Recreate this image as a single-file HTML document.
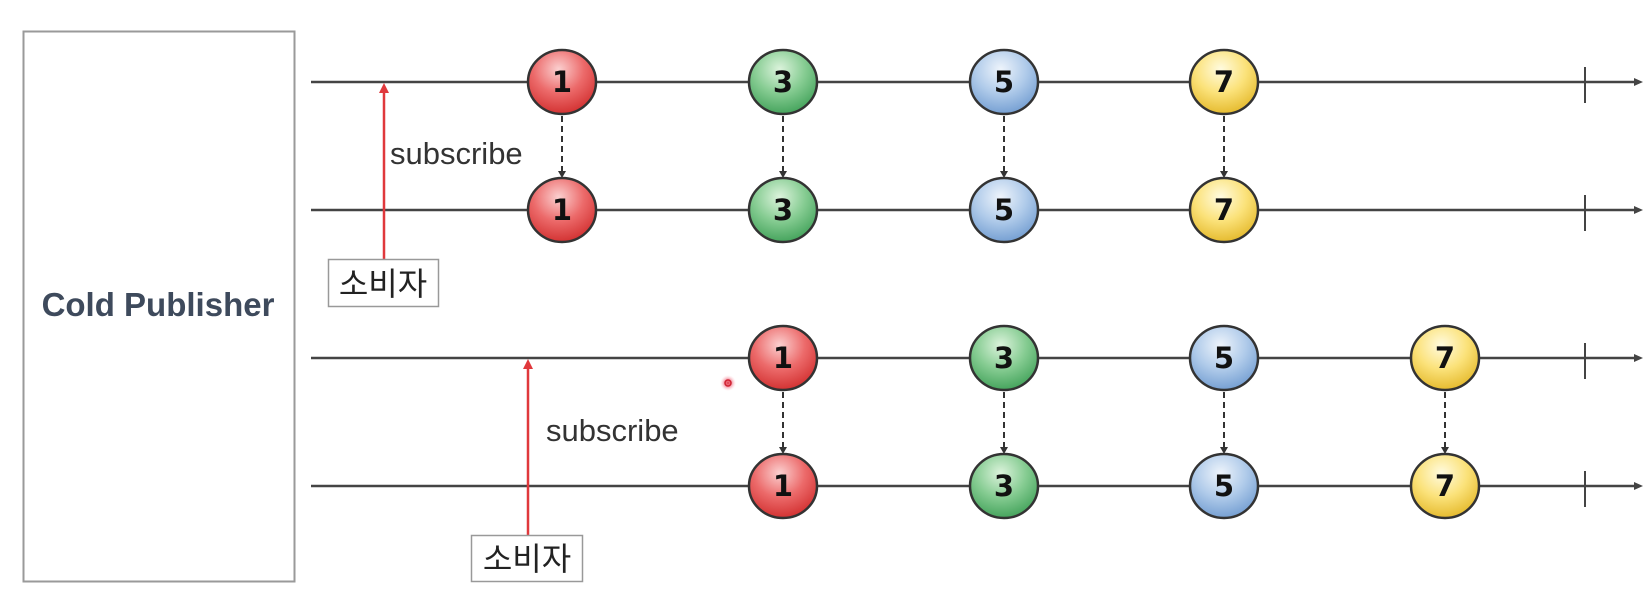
<!DOCTYPE html>
<html><head><meta charset="utf-8"><style>
html,body{margin:0;padding:0;background:#fff;}
svg{display:block;}
</style></head><body>
<svg width="1648" height="614" viewBox="0 0 1648 614" xmlns="http://www.w3.org/2000/svg">
<defs>
<radialGradient id="gr" cx="45%" cy="30%" r="75%"><stop offset="0" stop-color="#fbd0d0"/><stop offset="0.5" stop-color="#ec6a6a"/><stop offset="1" stop-color="#cf2a2a"/></radialGradient>
<radialGradient id="gg" cx="45%" cy="30%" r="75%"><stop offset="0" stop-color="#dcf3dc"/><stop offset="0.5" stop-color="#86cc92"/><stop offset="1" stop-color="#3c9e55"/></radialGradient>
<radialGradient id="gb" cx="45%" cy="30%" r="75%"><stop offset="0" stop-color="#eef4fb"/><stop offset="0.5" stop-color="#b0cbea"/><stop offset="1" stop-color="#6d99cf"/></radialGradient>
<radialGradient id="gy" cx="45%" cy="30%" r="75%"><stop offset="0" stop-color="#fffbe0"/><stop offset="0.5" stop-color="#fbe27a"/><stop offset="1" stop-color="#e2b524"/></radialGradient>
<radialGradient id="dot"><stop offset="0" stop-color="#e03040"/><stop offset="0.5" stop-color="#f08090" stop-opacity="0.7"/><stop offset="1" stop-color="#ffd0d8" stop-opacity="0"/></radialGradient>
</defs>
<rect x="23.5" y="31.5" width="271" height="550" fill="#fff" stroke="#9a9a9a" stroke-width="2"/>
<text x="158" y="316" text-anchor="middle" font-family="Liberation Sans, sans-serif" font-weight="bold" font-size="33" fill="#3e4a5c">Cold Publisher</text>

<g stroke="#444" stroke-width="2.5" fill="#444">
<line x1="311" y1="82" x2="1636" y2="82"/><polygon points="1643,82 1634,78 1634,86" stroke="none"/>
<line x1="311" y1="210" x2="1636" y2="210"/><polygon points="1643,210 1634,206 1634,214" stroke="none"/>
<line x1="311" y1="358" x2="1636" y2="358"/><polygon points="1643,358 1634,354 1634,362" stroke="none"/>
<line x1="311" y1="486" x2="1636" y2="486"/><polygon points="1643,486 1634,482 1634,490" stroke="none"/>
<line x1="1585" y1="67" x2="1585" y2="103" stroke-width="2"/>
<line x1="1585" y1="195" x2="1585" y2="231" stroke-width="2"/>
<line x1="1585" y1="343" x2="1585" y2="379" stroke-width="2"/>
<line x1="1585" y1="471" x2="1585" y2="507" stroke-width="2"/>
</g>

<g stroke="#333" stroke-width="2" stroke-dasharray="6,4" fill="none">
<line x1="562" y1="116" x2="562" y2="172"/><line x1="783" y1="116" x2="783" y2="172"/><line x1="1004" y1="116" x2="1004" y2="172"/><line x1="1224" y1="116" x2="1224" y2="172"/>
<line x1="783" y1="392" x2="783" y2="448"/><line x1="1004" y1="392" x2="1004" y2="448"/><line x1="1224" y1="392" x2="1224" y2="448"/><line x1="1445" y1="392" x2="1445" y2="448"/>
</g>
<g fill="#333">
<polygon points="562,178 558,171 566,171"/><polygon points="783,178 779,171 787,171"/><polygon points="1004,178 1000,171 1008,171"/><polygon points="1224,178 1220,171 1228,171"/>
<polygon points="783,454 779,447 787,447"/><polygon points="1004,454 1000,447 1008,447"/><polygon points="1224,454 1220,447 1228,447"/><polygon points="1445,454 1441,447 1449,447"/>
</g>

<g stroke="#333" stroke-width="2.5">
<ellipse cx="562" cy="82" rx="34" ry="32" fill="url(#gr)"/><ellipse cx="783" cy="82" rx="34" ry="32" fill="url(#gg)"/><ellipse cx="1004" cy="82" rx="34" ry="32" fill="url(#gb)"/><ellipse cx="1224" cy="82" rx="34" ry="32" fill="url(#gy)"/>
<ellipse cx="562" cy="210" rx="34" ry="32" fill="url(#gr)"/><ellipse cx="783" cy="210" rx="34" ry="32" fill="url(#gg)"/><ellipse cx="1004" cy="210" rx="34" ry="32" fill="url(#gb)"/><ellipse cx="1224" cy="210" rx="34" ry="32" fill="url(#gy)"/>
<ellipse cx="783" cy="358" rx="34" ry="32" fill="url(#gr)"/><ellipse cx="1004" cy="358" rx="34" ry="32" fill="url(#gg)"/><ellipse cx="1224" cy="358" rx="34" ry="32" fill="url(#gb)"/><ellipse cx="1445" cy="358" rx="34" ry="32" fill="url(#gy)"/>
<ellipse cx="783" cy="486" rx="34" ry="32" fill="url(#gr)"/><ellipse cx="1004" cy="486" rx="34" ry="32" fill="url(#gg)"/><ellipse cx="1224" cy="486" rx="34" ry="32" fill="url(#gb)"/><ellipse cx="1445" cy="486" rx="34" ry="32" fill="url(#gy)"/>
</g>
<g font-family="DejaVu Sans, Liberation Sans, sans-serif" font-weight="bold" font-size="29" text-anchor="middle" fill="#111">
<text x="562" y="92">1</text><text x="783" y="92">3</text><text x="1004" y="92">5</text><text x="1224" y="92">7</text>
<text x="562" y="220">1</text><text x="783" y="220">3</text><text x="1004" y="220">5</text><text x="1224" y="220">7</text>
<text x="783" y="368">1</text><text x="1004" y="368">3</text><text x="1224" y="368">5</text><text x="1445" y="368">7</text>
<text x="783" y="496">1</text><text x="1004" y="496">3</text><text x="1224" y="496">5</text><text x="1445" y="496">7</text>
</g>

<g stroke="#e0383c" stroke-width="2.5" fill="#e0383c">
<line x1="384" y1="259" x2="384" y2="90"/><polygon points="384,83 379,93 389,93" stroke="none"/>
<line x1="528" y1="536" x2="528" y2="366"/><polygon points="528,359 523,369 533,369" stroke="none"/>
</g>
<g font-family="Liberation Sans, DejaVu Sans, sans-serif" font-size="31" fill="#333">
<text x="390" y="164">subscribe</text>
<text x="546" y="441">subscribe</text>
</g>
<rect x="328.5" y="259.5" width="110" height="47" fill="#fff" stroke="#999" stroke-width="1.5"/>
<rect x="471.5" y="535.5" width="111" height="46" fill="#fff" stroke="#999" stroke-width="1.5"/>
<g font-family="Liberation Sans, 'Noto Sans CJK KR', NanumGothic, sans-serif" font-size="32" fill="#222" text-anchor="middle">
<text x="383" y="295">소비자</text>
<text x="527" y="570">소비자</text>
</g>
<circle cx="728" cy="383" r="8" fill="url(#dot)"/>
<circle cx="728" cy="383" r="3" fill="none" stroke="#d02030" stroke-width="1.5"/>
</svg>
</body></html>
